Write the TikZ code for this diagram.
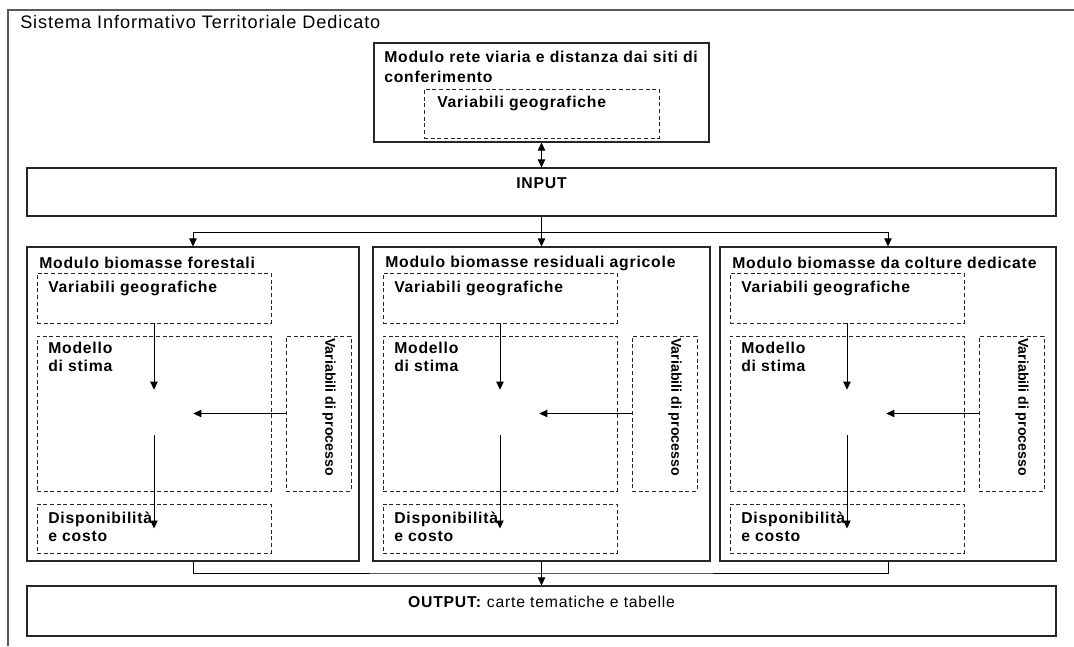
\documentclass[tikz,border=0pt]{standalone}
\usepackage{fontspec}
\setmainfont{Liberation Sans}[LetterSpace=5]
\usetikzlibrary{arrows.meta,fit}

\tikzset{
    frame box/.style={draw=black!85,line width=.8pt,inner sep=0pt},
    dash box/.style={draw=black!85,line width=.6pt,dash pattern=on 3pt off 2pt,inner sep=0pt},
    label text/.style={font=\bfseries\fontsize{11.8}{13.5}\selectfont,inner sep=0pt,align=left},
    flow/.style={line width=.7pt,-{Triangle[length=6pt,width=5.5pt]}}
}

\begin{document}
\begin{tikzpicture}[x=.75pt,y=-.75pt]
    \useasboundingbox (0,0) rectangle (1074,646);
    % outer frame, open on the right and at the bottom
    \draw[black!65,line width=1pt] (8,646) -- (8,10) -- (1074,10);
    \node[anchor=west,inner sep=0pt,font=\fontsize{13.6}{15}\selectfont] (sitd) at (20,22) {Sistema Informativo Territoriale Dedicato};

    % road network module
    \node[frame box,fit={(374,43) (709,142)}] (rete) {};
    \node[label text,anchor=north west,font=\bfseries\fontsize{11.8}{14.5}\selectfont] (rete title) at (384,51) {Modulo rete viaria e distanza dai siti di\\conferimento};
    \node[dash box,fit={(424,89) (659,138)}] (rete geo) {};
    \node[label text,anchor=west] (rete geo text) at (437,103) {Variabili geografiche};

    \node[frame box,fit={(27,168) (1056,216)}] (input) {};
    \node[label text] (input text) at (541.5,183) {INPUT};
    \draw[line width=.7pt,{Triangle[length=6pt,width=5.5pt]}-{Triangle[length=6pt,width=5.5pt]}] (rete.south) -- (input.north);

    \foreach \i/\x/\w/\name in {1/27/332/forestali,2/373/337/residuali agricole,3/720/336/da colture dedicate} {
        \node[frame box,fit={(\x,247) (\x+\w,561)}] (mod\i) {};
        \node[label text,anchor=west] (mod\i title) at (\x+12,263) {Modulo biomasse \name};
        \node[dash box,fit={(\x+10,273) (\x+244,323)}] (geo\i) {};
        \node[label text,anchor=west] (geo\i text) at (\x+21,288) {Variabili geografiche};
        \node[dash box,fit={(\x+10,336) (\x+244,491)}] (stima\i) {};
        \node[label text,anchor=north west] (stima\i text) at (\x+21,342) {Modello\\di stima};
        \node[dash box,fit={(\x+259,336) (\x+324,491)}] (proc\i) {};
        \node[label text,font=\bfseries\fontsize{10.6}{12}\selectfont\addfontfeature{LetterSpace=0},rotate=-90,anchor=west] (proc\i text) at (\x+302,338) {Variabili di processo};
        \node[dash box,fit={(\x+10,504) (\x+244,553)}] (disp\i) {};
        \node[label text,anchor=north west] (disp\i text) at (\x+21,512) {Disponibilità\\e costo};
        \node[inner sep=0pt,fit={(\x+88,390) (\x+166,435)}] (hub\i) {};
        \draw[flow] (geo\i.south) -- (hub\i.north);
        \draw[flow] (proc\i.west) -- (proc\i.west -| hub\i.east);
        \draw[flow] (hub\i.south) -- (disp\i.center);
    }

    \coordinate (split) at (541.5,232);
    \draw[flow] (input.south) -- (mod2.north);
    \draw[flow] (split) -| (mod1.north);
    \draw[flow] (split) -| (mod3.north);

    \node[frame box,fit={(27,586) (1056,636)}] (output) {};
    \node[inner sep=0pt,font=\fontsize{11.8}{13.5}\selectfont] (output text) at (541.5,602) {\textbf{OUTPUT:} carte tematiche e tabelle};
    \coordinate (join) at (541.5,573);
    \draw[line width=.7pt] (mod1.south) |- (join) -| (mod3.south);
    \draw[flow] (mod2.south) -- (output.north);
\end{tikzpicture}
\end{document}
